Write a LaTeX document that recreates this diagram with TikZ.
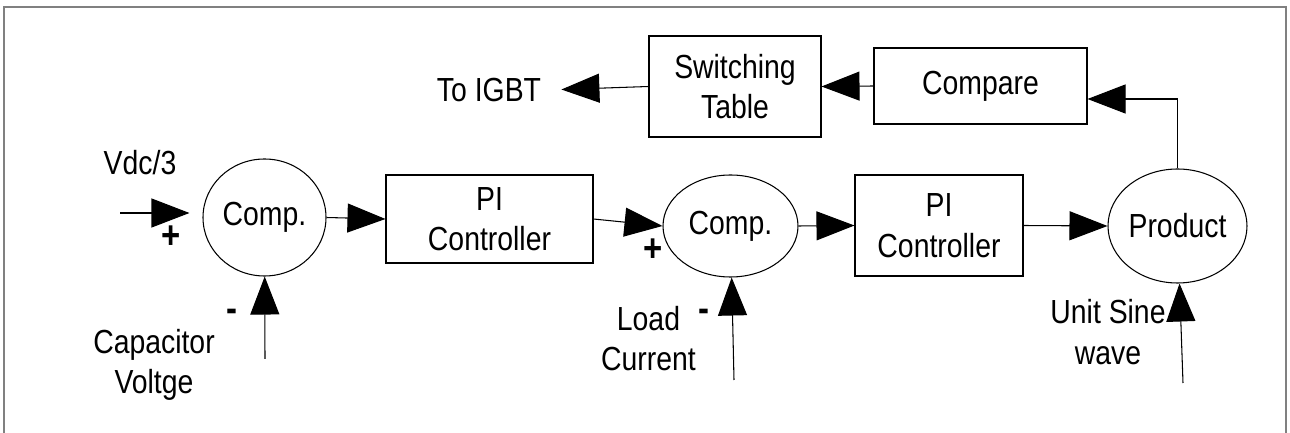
\documentclass[tikz,border=0pt]{standalone}
\usepackage{fontspec}
\setmainfont{Liberation Sans}[FakeStretch=0.85]
\usetikzlibrary{positioning,arrows.meta,shapes,calc}
\newcommand\blockfont{\fontsize{19}{23}\selectfont}

\begin{document}
\begin{tikzpicture}[
    >={Triangle[length=0.76cm,width=0.58cm]},
    line width=0.6pt,
    block/.style={rectangle, draw, align=center, font=\blockfont},
    sumnode/.style={ellipse, draw, inner sep=0pt, font=\blockfont},
    label/.style={font=\blockfont, align=center},
    sign/.style={font=\fontsize{22}{23}\selectfont\bfseries}
]
\useasboundingbox (0,0) rectangle (25.8,8.66);

% Frame (open at the bottom)
\draw[gray] (0.08,0) -- (0.08,8.52) -- (25.72,8.52) -- (25.72,0);

% === Voltage loop ===
\node[sumnode, minimum width=2.46cm, minimum height=2.34cm] (c1) at (5.29, 4.31) {Comp.};
\node[block, minimum width=4.14cm, minimum height=1.76cm] (pi1) at (9.79, 4.28) {PI\\Controller};

\coordinate (vin) at (2.40, 4.40);
\coordinate (vcap) at (5.30, 1.48);
\node[label] (vref) at (2.80, 5.40) {Vdc/3};
\node[sign] (p1) at (3.42, 3.92) {+};
\node[sign] (m1) at (4.64, 2.36) {-};
\node[label] (capv) at (3.08, 1.36) {Capacitor\\Voltge};

\draw[->, shorten >=0.26cm] (vin) -- (vin -| c1.west);
\draw[->] (vcap) -- (c1);
\draw[->] (c1.east) -- (pi1.west);

% === Current loop ===
\node[sumnode, minimum width=2.70cm, minimum height=2.04cm] (c2) at (14.61, 4.14) {Comp.};
\node[block, minimum width=3.36cm, minimum height=2.02cm] (pi2) at (18.78, 4.15) {PI\\Controller};
\node[sumnode, minimum width=2.78cm, minimum height=2.28cm] (prod) at (23.55, 4.14) {Product};

\coordinate (iload) at (14.68, 1.06);
\coordinate (sine) at (23.66, 1.00);
\node[sign] (p2) at (13.06, 3.66) {+};
\node[sign] (m2) at (14.08, 2.36) {-};
\node[label] (load) at (12.97, 1.89) {Load\\Current};
\node[label] (usine) at (22.16, 2.02) {Unit Sine\\wave};

\draw[->] (pi1.east) -- (c2.west);
\draw[->] (iload) -- (c2);
\draw[->] (c2.east) -- (pi2.west);
\draw[->] (pi2.east) -- (prod.west);
\draw[->] (sine) -- (prod);

% === Switching ===
\node[block, minimum width=4.26cm, minimum height=1.52cm] (cmp) at (19.61, 6.94) {Compare};
\node[block, minimum width=3.44cm, minimum height=2.02cm] (sw) at (14.70, 6.93) {Switching\\Table};
\node[label] (igbt) at (9.78, 6.86) {To IGBT};

\draw[->] (prod.north) |- ([yshift=-0.26cm]cmp.east);
\draw[->] (cmp.west) -- (sw.east);
\draw[->, shorten >=0.28cm] (sw.west) -- (igbt.east);
\end{tikzpicture}
\end{document}
